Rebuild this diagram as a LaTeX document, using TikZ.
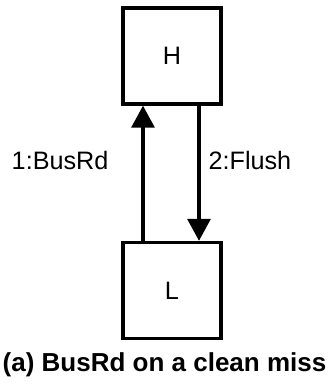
\documentclass[tikz,border=0pt]{standalone}
\usepackage{fontspec}
\setmainfont{Liberation Sans}
\usetikzlibrary{arrows.meta,positioning,calc}

\begin{document}
\begin{tikzpicture}[
  x=0.5pt, y=-0.5pt,
  font=\fontsize{12.6}{15}\selectfont,
  cache/.style={draw=black, line width=1.7pt, fill=white,
                minimum width=49pt, minimum height=48pt, inner sep=0pt},
  arr/.style={-{Triangle[length=11pt, width=11.5pt]}, draw=black, line width=1.6pt},
  lbl/.style={inner sep=0pt},
  caption/.style={font=\fontsize{13}{15}\selectfont\bfseries}
]

\useasboundingbox (0,0) rectangle (328,386);

\node[cache] (H) at (172, 56)    {H};
\node[cache] (L) at (172, 290.5) {L};

% BusRd goes up, Flush comes down
\draw[arr] ([xshift=-14.5pt]L.north) -- ([xshift=-14.5pt]H.south)
  node[lbl, pos=0.594, left=16.5pt] (busrd) {1:BusRd};
\draw[arr] ([xshift=13.5pt]H.south) -- ([xshift=13.5pt]L.north)
  node[lbl, pos=0.406, right=4pt] (flush) {2:Flush};

\node[caption] (cap) at (164.5, 365) {(a) BusRd on a clean miss};

\end{tikzpicture}
\end{document}
